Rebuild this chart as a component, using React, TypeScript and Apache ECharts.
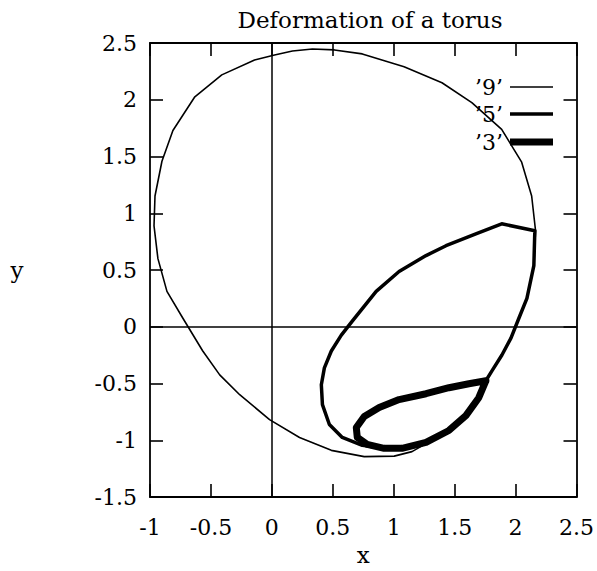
import React, { useEffect, useRef } from "react";
import * as echarts from "echarts";

// Cross-sections of the deformed torus, as (x, y) vertices of each closed curve.
const curve9: [number, number][] = [
  [2.164, 0.846], [2.132, 1.152], [2.05, 1.45], [1.886, 1.739], [1.641, 1.975],
  [1.396, 2.15], [1.085, 2.29], [0.742, 2.404], [0.513, 2.439], [0.333, 2.447],
  [0.169, 2.429], [0.022, 2.394], [-0.142, 2.35], [-0.411, 2.219], [-0.632, 2.026],
  [-0.812, 1.729], [-0.902, 1.458], [-0.959, 1.152], [-0.967, 0.889], [-0.935, 0.6],
  [-0.861, 0.312], [-0.73, 0.075], [-0.567, -0.214], [-0.428, -0.424], [-0.264, -0.599],
  [-0.019, -0.818], [0.227, -0.976], [0.488, -1.089], [0.758, -1.144], [1.004, -1.14],
  [1.15, -1.1], [1.265, -1.03], [1.453, -0.914], [1.592, -0.783], [1.683, -0.652],
  [1.756, -0.476], [1.806, -0.389], [1.888, -0.249], [1.962, -0.1], [2.027, 0.075],
  [2.093, 0.25], [2.15, 0.539], [2.164, 0.846],
];

const curve5: [number, number][] = [
  [2.158, 0.846], [2.15, 0.539], [2.093, 0.25], [2.027, 0.075], [1.962, -0.1],
  [1.888, -0.249], [1.806, -0.389], [1.756, -0.476], [1.683, -0.652], [1.592, -0.783],
  [1.453, -0.914], [1.265, -1.019], [1.068, -1.071], [0.921, -1.071], [0.742, -1.045],
  [0.578, -0.975], [0.472, -0.861], [0.415, -0.686], [0.406, -0.511], [0.431, -0.362],
  [0.488, -0.214], [0.57, -0.074], [0.66, 0.049], [0.856, 0.312], [1.044, 0.487],
  [1.265, 0.627], [1.429, 0.714], [1.674, 0.819], [1.886, 0.907], [2.158, 0.846],
];

const curve3: [number, number][] = [
  [1.756, -0.476], [1.617, -0.502], [1.453, -0.537], [1.265, -0.59], [1.044, -0.642],
  [0.881, -0.712], [0.758, -0.791], [0.693, -0.888], [0.701, -0.975], [0.782, -1.036],
  [0.921, -1.071], [1.068, -1.071], [1.265, -1.019], [1.453, -0.914], [1.592, -0.783],
  [1.698, -0.625], [1.756, -0.476],
];

const seriesNames = ["\u20199\u2019", "\u20195\u2019", "\u20193\u2019"];
const seriesData = [curve9, curve5, curve3];

const FONT = "'DejaVu Serif', 'Liberation Serif', serif";
const lineWidths = [1.6, 3.5, 7];

export default function App() {
  const ref = useRef<HTMLDivElement>(null);

  useEffect(() => {
    document.body.style.margin = "0";
    if (!ref.current) return;
    const chart = echarts.init(ref.current, null, { renderer: "svg" });

    const gridLeft = 150;
    const gridTop = 43;
    const gridW = 428;
    const gridH = 457;

    const axisLine = { show: true, onZero: false, lineStyle: { color: "#000", width: 1.8 } };
    const tick = { show: true, inside: true, length: 13, lineStyle: { color: "#000", width: 1.6 } };
    const labelStyle = { color: "#000", fontFamily: FONT, fontSize: 22 };

    // Legend rows: label on the left, line sample on the right
    const legendGraphics: any[] = [];
    const rowY = [87, 114, 142];
    seriesNames.forEach((name, i) => {
      legendGraphics.push({
        type: "text",
        x: 503,
        y: rowY[i],
        style: {
          text: name,
          fontFamily: FONT,
          fontSize: 22,
          fill: "#000",
          align: "right",
          verticalAlign: "middle",
        },
      });
      legendGraphics.push({
        type: "line",
        shape: { x1: 510, y1: rowY[i], x2: 553, y2: rowY[i] },
        style: { stroke: "#000", lineWidth: lineWidths[i] },
      });
    });

    chart.setOption({
      animation: false,
      backgroundColor: "#fff",
      title: {
        text: "Deformation of a torus",
        left: 365,
        top: 3,
        textAlign: "center",
        textStyle: { color: "#000", fontFamily: FONT, fontSize: 23, fontWeight: "normal" },
      },
      grid: { left: gridLeft, top: gridTop, width: gridW, height: gridH, containLabel: false },
      xAxis: [
        {
          type: "value",
          min: -1,
          max: 2.5,
          interval: 0.5,
          position: "bottom",
          name: "x",
          nameLocation: "middle",
          nameGap: 46,
          nameTextStyle: { color: "#000", fontFamily: FONT, fontSize: 23 },
          axisLine,
          axisTick: tick,
          axisLabel: { ...labelStyle, margin: 19 },
          splitLine: { show: false },
        },
        {
          type: "value",
          min: -1,
          max: 2.5,
          interval: 0.5,
          position: "top",
          axisLine,
          axisTick: tick,
          axisLabel: { show: false },
          splitLine: { show: false },
        },
      ],
      yAxis: [
        {
          type: "value",
          min: -1.5,
          max: 2.5,
          interval: 0.5,
          position: "left",
          axisLine,
          axisTick: tick,
          axisLabel: { ...labelStyle, margin: 13 },
          splitLine: { show: false },
        },
        {
          type: "value",
          min: -1.5,
          max: 2.5,
          interval: 0.5,
          position: "right",
          axisLine,
          axisTick: tick,
          axisLabel: { show: false },
          splitLine: { show: false },
        },
      ],
      graphic: [
        {
          type: "text",
          x: 17,
          y: 270,
          style: {
            text: "y",
            fontFamily: FONT,
            fontSize: 23,
            fill: "#000",
            align: "center",
            verticalAlign: "middle",
          },
        },
        ...legendGraphics,
      ],
      series: seriesData.map((data, i) => ({
        name: seriesNames[i],
        type: "line",
        data,
        showSymbol: false,
        symbol: "none",
        smooth: false,
        lineStyle: { color: "#000", width: lineWidths[i], join: "round", cap: "round" },
        z: 3 + i,
        markLine:
          i === 0
            ? {
                silent: true,
                symbol: "none",
                label: { show: false },
                lineStyle: { color: "#000", width: 1.5, type: "solid" },
                data: [{ xAxis: 0 }, { yAxis: 0 }],
              }
            : undefined,
      })),
    });

    return () => chart.dispose();
  }, []);

  return <div ref={ref} style={{ width: 597, height: 571 }} />;
}
